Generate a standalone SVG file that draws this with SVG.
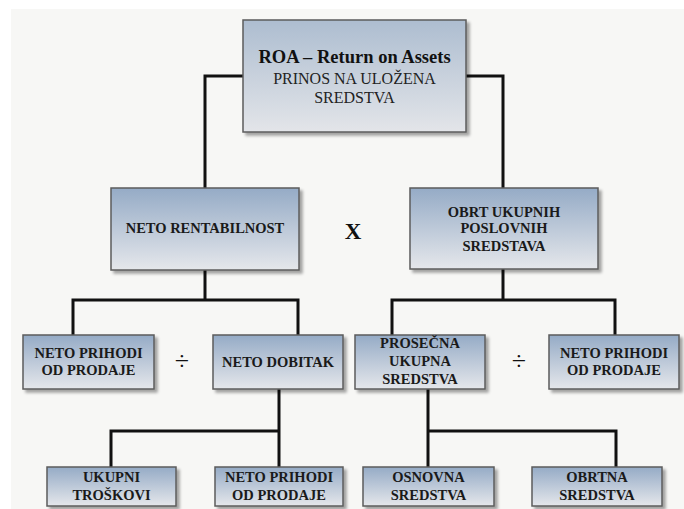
<svg xmlns="http://www.w3.org/2000/svg" width="684" height="509" viewBox="0 0 684 509" font-family="'Liberation Serif', 'Times New Roman', 'DejaVu Serif', serif">
  <defs>
    <linearGradient id="g" x1="0" y1="0" x2="0" y2="1">
      <stop offset="0" stop-color="#95abc6"/>
      <stop offset="1" stop-color="#e5e7eb"/>
    </linearGradient>
    <linearGradient id="gTop" x1="0" y1="0" x2="0" y2="1">
      <stop offset="0" stop-color="#adbdd0"/>
      <stop offset="1" stop-color="#e3e5e9"/>
    </linearGradient>
    <filter id="sh" x="-10%" y="-10%" width="125%" height="135%">
      <feGaussianBlur in="SourceAlpha" stdDeviation="1.5"/>
      <feOffset dx="2.5" dy="2.5" result="b"/>
      <feComponentTransfer><feFuncA type="linear" slope="0.35"/></feComponentTransfer>
      <feMerge><feMergeNode/><feMergeNode in="SourceGraphic"/></feMerge>
    </filter>
    <style>
      text { font-family: 'Liberation Serif', 'Times New Roman', 'DejaVu Serif', serif; }
      .box { fill: url(#g); stroke: #5c5c5c; stroke-width: 1.5; filter: url(#sh); }
      .boxTop { fill: url(#gTop); stroke: #5c5c5c; stroke-width: 1.5; filter: url(#sh); }
      .lbl { font-weight: bold; font-size: 14.5px; fill: #1a1a1a; text-anchor: middle; }
      .t1 { font-weight: bold; font-size: 18.5px; fill: #111; text-anchor: middle; }
      .t2 { font-size: 16px; fill: #222; text-anchor: middle; }
      .op { fill: #111; text-anchor: middle; }
      .conn { fill: none; stroke: #111; stroke-width: 3; stroke-linejoin: miter; }
    </style>
  </defs>

  <rect x="0" y="0" width="684" height="509" fill="#ffffff"/>
  <rect x="11" y="9" width="673" height="500" fill="#f7f7f5"/>

  <g id="connectors" class="conn">
    <path d="M243,76 H205 V188"/>
    <path d="M466,76 H503 V188"/>
    <path d="M205,270 V300"/>
    <path d="M73,335 V300 H298 V335"/>
    <path d="M503,269 V300"/>
    <path d="M392,335 V300 H615 V335"/>
    <path d="M279,389 V467"/>
    <path d="M111,467 V431 H279"/>
    <path d="M428,389 V467"/>
    <path d="M428,431 H616 V467"/>
  </g>

  <g id="roa">
    <rect class="boxTop" x="243" y="20" width="223" height="112"/>
    <text class="t1" x="354.5" y="63">ROA – Return on Assets</text>
    <text class="t2" x="354.5" y="84">PRINOS NA ULOŽENA</text>
    <text class="t2" x="354.5" y="102.5">SREDSTVA</text>
  </g>

  <g id="neto-rentabilnost">
    <rect class="box" x="111" y="188" width="188" height="82"/>
    <text class="lbl" x="205" y="233">NETO RENTABILNOST</text>
  </g>

  <g id="op-x">
    <text class="op" x="353" y="238.5" font-size="23" font-weight="bold">X</text>
  </g>

  <g id="obrt">
    <rect class="box" x="410" y="188" width="188" height="81"/>
    <text class="lbl" x="504" y="216.5">OBRT UKUPNIH</text>
    <text class="lbl" x="504" y="233">POSLOVNIH</text>
    <text class="lbl" x="504" y="250.5">SREDSTAVA</text>
  </g>

  <g id="neto-prihodi-1">
    <rect class="box" x="23" y="335" width="131" height="54"/>
    <text class="lbl" x="88.5" y="357.5">NETO PRIHODI</text>
    <text class="lbl" x="88.5" y="374.5">OD PRODAJE</text>
  </g>

  <g id="op-div-1">
    <text class="op" x="182" y="370" font-size="26">÷</text>
  </g>

  <g id="neto-dobitak">
    <rect class="box" x="213" y="335" width="130" height="54"/>
    <text class="lbl" x="278" y="367">NETO DOBITAK</text>
  </g>

  <g id="prosecna">
    <rect class="box" x="355" y="335" width="130" height="54"/>
    <text class="lbl" x="420" y="348">PROSEČNA</text>
    <text class="lbl" x="420" y="366">UKUPNA</text>
    <text class="lbl" x="420" y="384">SREDSTVA</text>
  </g>

  <g id="op-div-2">
    <text class="op" x="519" y="370" font-size="26">÷</text>
  </g>

  <g id="neto-prihodi-2">
    <rect class="box" x="549" y="335" width="130" height="54"/>
    <text class="lbl" x="614" y="357.5">NETO PRIHODI</text>
    <text class="lbl" x="614" y="374.5">OD PRODAJE</text>
  </g>

  <g id="ukupni-troskovi">
    <rect class="box" x="47" y="467" width="129" height="39"/>
    <text class="lbl" x="111.5" y="482">UKUPNI</text>
    <text class="lbl" x="111.5" y="500">TROŠKOVI</text>
  </g>

  <g id="neto-prihodi-3">
    <rect class="box" x="215" y="467" width="128" height="39"/>
    <text class="lbl" x="279" y="482">NETO PRIHODI</text>
    <text class="lbl" x="279" y="500">OD PRODAJE</text>
  </g>

  <g id="osnovna">
    <rect class="box" x="363" y="467" width="131" height="39"/>
    <text class="lbl" x="428.5" y="482">OSNOVNA</text>
    <text class="lbl" x="428.5" y="500">SREDSTVA</text>
  </g>

  <g id="obrtna">
    <rect class="box" x="532" y="467" width="130" height="39"/>
    <text class="lbl" x="597" y="482">OBRTNA</text>
    <text class="lbl" x="597" y="500">SREDSTVA</text>
  </g>
</svg>
